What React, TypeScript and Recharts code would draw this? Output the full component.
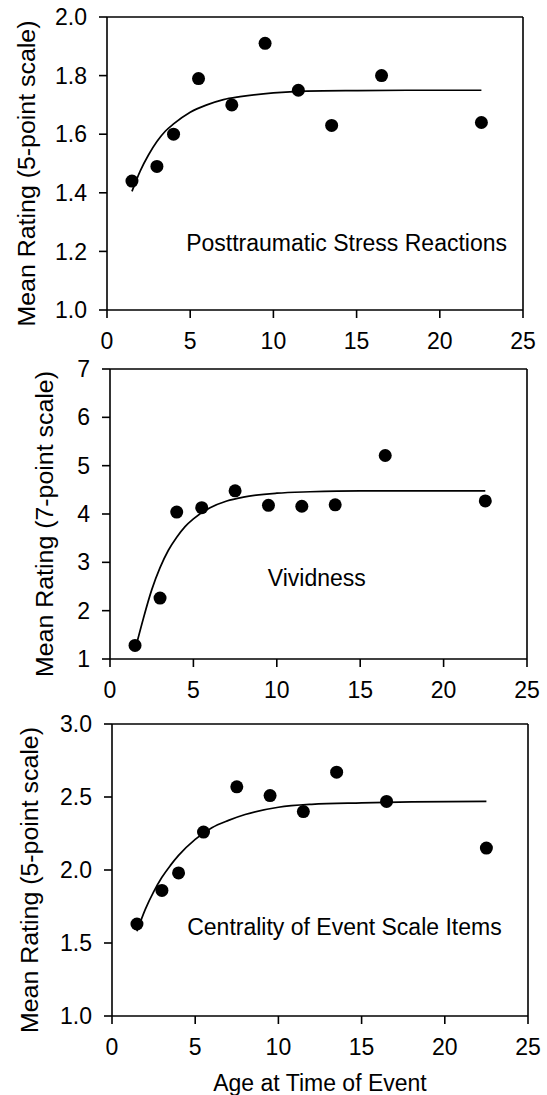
import {
  ComposedChart,
  Scatter,
  Line,
  XAxis,
  YAxis,
  ReferenceLine,
  ReferenceDot,
} from "recharts";

// ages at which the groups were sampled
const ages = [1.5, 3, 4, 5.5, 7.5, 9.5, 11.5, 13.5, 16.5, 22.5];

const ptsdMeans = [1.44, 1.49, 1.6, 1.79, 1.7, 1.91, 1.75, 1.63, 1.8, 1.64];
const vividMeans = [1.28, 2.26, 4.04, 4.13, 4.48, 4.18, 4.16, 4.19, 5.21, 4.27];
const cesMeans = [1.63, 1.86, 1.98, 2.26, 2.57, 2.51, 2.4, 2.67, 2.47, 2.15];

// fitted curves
const ptsdFitAges = [1.5, 2, 2.5, 3, 3.5, 4, 5, 6, 7, 8, 10, 12, 15, 18, 22.5];
const ptsdFit = [1.405, 1.475, 1.53, 1.575, 1.61, 1.635, 1.675, 1.7, 1.718, 1.728, 1.741, 1.747, 1.749, 1.75, 1.75];

const vividFitAges = [1.6, 2, 2.5, 3, 3.5, 4, 4.5, 5, 6, 7, 8, 10, 12, 15, 22.5];
const vividFit = [1.32, 1.84, 2.43, 2.89, 3.25, 3.52, 3.74, 3.9, 4.13, 4.27, 4.35, 4.43, 4.46, 4.48, 4.48];

const cesFitAges = [1.5, 2, 2.5, 3, 3.5, 4, 5, 6, 7, 8, 10, 12, 15, 18, 22.5];
const cesFit = [1.58, 1.73, 1.85, 1.95, 2.03, 2.1, 2.21, 2.29, 2.34, 2.38, 2.43, 2.45, 2.46, 2.467, 2.47];

const xTicks = [0, 5, 10, 15, 20, 25];
const ptsdTicks = [1.0, 1.2, 1.4, 1.6, 1.8, 2.0];
const vividTicks = [1, 2, 3, 4, 5, 6, 7];
const cesTicks = [1.0, 1.5, 2.0, 2.5, 3.0];

const FONT = "'Liberation Sans', Arial, Helvetica, sans-serif";
const FS = 23;

const toPoints = (xs: number[], ys: number[]) => xs.map((x, i) => ({ x, y: ys[i] }));

const dotShape = (p: any) => <circle cx={p.cx} cy={p.cy} r={6.5} fill="#000" />;

const yTitle = (text: string, cx: number) => (props: any) => {
  const vb = props.viewBox;
  const cy = vb.y + vb.height / 2 + 10;
  return (
    <text
      x={cx}
      y={cy}
      transform={`rotate(-90 ${cx} ${cy})`}
      textAnchor="middle"
      dominantBaseline="central"
      fontSize={FS}
      fill="#000"
      textLength={306}
      lengthAdjust="spacingAndGlyphs"
    >
      {text}
    </text>
  );
};

const xTitle = (props: any) => {
  const vb = props.viewBox;
  return (
    <text x={vb.x + vb.width / 2} y={vb.y + 75} textAnchor="middle" fontSize={FS} fill="#000">
      Age at Time of Event
    </text>
  );
};

type PanelProps = {
  top: number;
  height: number;
  margin: { top: number; right: number; bottom: number; left: number };
  xAxisHeight: number;
  means: number[];
  fitAges: number[];
  fit: number[];
  yTicks: number[];
  yDomain: [number, number];
  decimals: number;
  yLabel: string;
  yLabelX: number;
  note: string;
  noteAt: [number, number];
  showXTitle?: boolean;
};

const Panel = (p: PanelProps) => {
  const tickStyle = { fill: "#000", fontSize: FS, fontFamily: FONT };
  const axisStroke = { stroke: "#000", strokeWidth: 1.6 };
  return (
    <div style={{ position: "absolute", left: 0, top: p.top }}>
      <ComposedChart width={547} height={p.height} margin={p.margin} style={{ fontFamily: FONT, overflow: "visible" }}>
        <XAxis
          type="number"
          dataKey="x"
          domain={[0, 25]}
          ticks={xTicks}
          height={p.xAxisHeight}
          tick={tickStyle}
          tickSize={8}
          tickMargin={15}
          axisLine={axisStroke}
          tickLine={axisStroke}
          label={p.showXTitle ? xTitle : undefined}
        />
        <YAxis
          type="number"
          dataKey="y"
          domain={p.yDomain}
          ticks={p.yTicks}
          width={97}
          tick={tickStyle}
          tickSize={8}
          tickMargin={12}
          tickFormatter={(v: number) => v.toFixed(p.decimals)}
          axisLine={axisStroke}
          tickLine={axisStroke}
          label={yTitle(p.yLabel, p.yLabelX)}
        />
        <ReferenceLine y={p.yDomain[1]} stroke="#000" strokeWidth={1.6} />
        <ReferenceLine x={25} stroke="#000" strokeWidth={1.6} />
        <Line
          data={toPoints(p.fitAges, p.fit)}
          dataKey="y"
          type="monotone"
          stroke="#000"
          strokeWidth={1.7}
          dot={false}
          activeDot={false}
          isAnimationActive={false}
        />
        <Scatter
          data={toPoints(ages, p.means)}
          dataKey="y"
          fill="#000"
          shape={dotShape}
          isAnimationActive={false}
        />
        <ReferenceDot
          x={p.noteAt[0]}
          y={p.noteAt[1]}
          r={0}
          fill="none"
          stroke="none"
          label={{ value: p.note, position: "center", fontSize: FS, fill: "#000", fontFamily: FONT }}
        />
      </ComposedChart>
    </div>
  );
};

export default function App() {
  return (
    <div style={{ position: "absolute", left: 0, top: 0, width: 547, height: 1095, background: "#fff" }}>
      <style>{"svg { overflow: visible; }"}</style>
      <Panel
        top={0}
        height={350}
        margin={{ top: 17, right: 24, bottom: 5, left: 10 }}
        xAxisHeight={35}
        means={ptsdMeans}
        fitAges={ptsdFitAges}
        fit={ptsdFit}
        yTicks={ptsdTicks}
        yDomain={[1, 2]}
        decimals={1}
        yLabel="Mean Rating (5-point scale)"
        yLabelX={27}
        note="Posttraumatic Stress Reactions"
        noteAt={[14.4, 1.23]}
      />
      <Panel
        top={350}
        height={350}
        margin={{ top: 19, right: 20, bottom: 6, left: 13 }}
        xAxisHeight={35}
        means={vividMeans}
        fitAges={vividFitAges}
        fit={vividFit}
        yTicks={vividTicks}
        yDomain={[1, 7]}
        decimals={0}
        yLabel="Mean Rating (7-point scale)"
        yLabelX={45}
        note="Vividness"
        noteAt={[12.4, 2.67]}
      />
      <Panel
        top={700}
        height={395}
        margin={{ top: 24, right: 19, bottom: 4, left: 15 }}
        xAxisHeight={75}
        means={cesMeans}
        fitAges={cesFitAges}
        fit={cesFit}
        yTicks={cesTicks}
        yDomain={[1, 3]}
        decimals={1}
        yLabel="Mean Rating (5-point scale)"
        yLabelX={30}
        note="Centrality of Event Scale Items"
        noteAt={[13.97, 1.61]}
        showXTitle
      />
    </div>
  );
}
